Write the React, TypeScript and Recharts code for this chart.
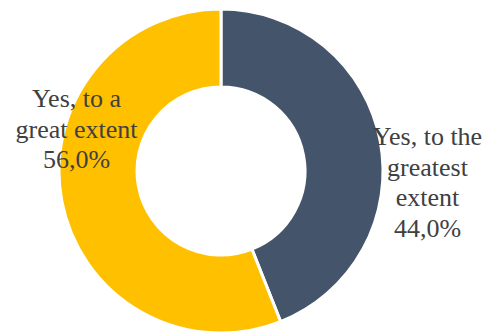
import React from "react";
import { PieChart, Pie, Cell } from "recharts";

const categories = ["Yes, to the greatest extent", "Yes, to a great extent"];
const values = [44.0, 56.0];
const labelLines = [
  ["Yes, to the", "greatest", "extent"],
  ["Yes, to a", "great extent"],
];
const colors = ["#44546A", "#FFC000"];

const data = categories.map((name, i) => ({ name, value: values[i] }));

// label block offsets relative to the pie centre (first baseline)
const LABEL_OFFSETS = [
  { dx: 206.5, dy: -26 },
  { dx: -144.5, dy: -64 },
];
const LINE_H = 30.7;
const FONT = "Liberation Serif, DejaVu Serif, Times New Roman, serif";

const renderLabel = (props: any) => {
  const { cx, cy, index, value } = props;
  const off = LABEL_OFFSETS[index];
  const x = cx + off.dx;
  const y0 = cy + off.dy;
  const lines = [...labelLines[index], value.toFixed(1).replace(".", ",") + "%"];
  return (
    <text
      x={x}
      y={y0}
      textAnchor="middle"
      fill="#404040"
      style={{ fontFamily: FONT, fontSize: 26 }}
    >
      {lines.map((l, i) => (
        <tspan key={i} x={x} y={y0 + i * LINE_H} style={{ fontFamily: FONT }}>
          {l}
        </tspan>
      ))}
    </text>
  );
};

export default function App() {
  return (
    <div style={{ position: "absolute", left: 0, top: 0, width: 495, height: 333, background: "#fff" }}>
      <PieChart width={495} height={333} margin={{ top: 0, right: 0, bottom: 0, left: 0 }}>
        <Pie
          data={data}
          dataKey="value"
          nameKey="name"
          cx={221}
          cy={171}
          innerRadius={84}
          outerRadius={162}
          startAngle={90}
          endAngle={-270}
          stroke="#ffffff"
          strokeWidth={3}
          label={renderLabel}
          labelLine={false}
          isAnimationActive={false}
        >
          {data.map((d, i) => (
            <Cell key={d.name} fill={colors[i]} />
          ))}
        </Pie>
      </PieChart>
    </div>
  );
}
